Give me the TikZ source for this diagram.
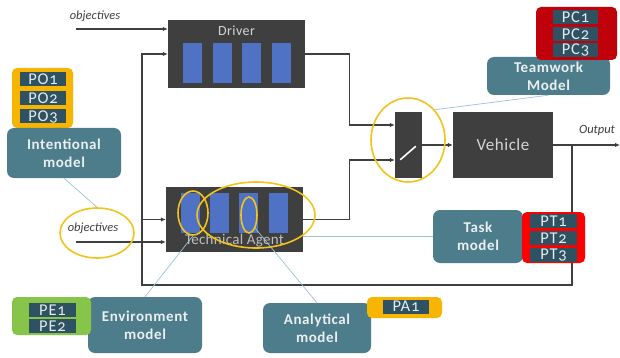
\documentclass[tikz,border=0pt]{standalone}
\usepackage{fontspec}
\setmainfont{Carlito}[Numbers=OldStyle]
\usetikzlibrary{shapes.geometric,arrows.meta}

\definecolor{boxgray}{HTML}{3F3F3F}
\definecolor{barblue}{HTML}{4F72C4}
\definecolor{ringyellow}{HTML}{F2C31B}
\definecolor{modelteal}{HTML}{4D7C8B}
\definecolor{rowteal}{HTML}{2E5262}
\definecolor{linkblue}{HTML}{9CC4D2}
\definecolor{paramorange}{HTML}{F7B500}
\definecolor{paramgreen}{HTML}{86C44A}
\definecolor{paramdark}{HTML}{C0000B}
\definecolor{paramred}{HTML}{FF0000}
\definecolor{palegray}{HTML}{D4D4D4}

\tikzset{
    block/.style={fill=boxgray, inner sep=0pt},
    bar/.style={fill=barblue, minimum width=19pt, minimum height=40pt, inner sep=0pt},
    ring/.style={ellipse, draw=ringyellow, line width=1.6pt, inner sep=0pt},
    model/.style={fill=modelteal, rounded corners=7pt, text=white!88!modelteal, align=center,
                  font=\bfseries\fontsize{15}{18}\selectfont\addfontfeature{LetterSpace=4}, inner sep=0pt},
    param/.style={rounded corners=5pt, inner sep=0pt},
    row/.style={fill=rowteal, text=white!88!rowteal, minimum width=46pt, minimum height=14pt,
                inner sep=0pt, font=\fontsize{16.5}{12}\selectfont\addfontfeature{LetterSpace=5}},
    link/.style={draw=linkblue, line width=0.7pt},
    wire/.style={draw=boxgray, line width=1.4pt},
    flow/.style={wire, -{Latex[length=5pt,width=4.5pt]}},
    note/.style={font=\itshape\fontsize{12.5}{13}\selectfont, text=boxgray}
}

\begin{document}
\begin{tikzpicture}[x=1pt, y=-1pt]
    \path[fill=white, use as bounding box] (0,0) rectangle (620,358);

    % main blocks
    \node[block, minimum width=137pt, minimum height=68pt,
          label={[anchor=north, yshift=-3pt, text=palegray, font=\fontsize{14}{14}\selectfont\addfontfeature{LetterSpace=3}]north:Driver}]
          (driver) at (236.5,54) {};
    \foreach \i/\x in {1/192.5, 2/222, 3/251.5, 4/281.5}
        \node[bar] (drvbar\i) at (\x,63) {};

    \node[block, minimum width=137pt, minimum height=65pt,
          label={[anchor=south, yshift=2pt, text=palegray!85!boxgray, font=\fontsize{15}{15}\selectfont\addfontfeature{LetterSpace=2}]south:Technical Agent}]
          (agent) at (234.5,219.5) {};
    \foreach \i/\x in {1/190, 2/219.5, 3/248.5, 4/278.5}
        \node[bar] (agtbar\i) at (\x,213) {};

    \node[block, minimum width=27pt, minimum height=66pt] (switch) at (408.5,145) {};
    \draw[white, line width=1.6pt, line cap=round] (400.5,159.5) -- (415.5,146.5);

    \node[block, minimum width=100pt, minimum height=66pt, text=palegray,
          font=\fontsize{17}{17}\selectfont\addfontfeature{LetterSpace=3}] (vehicle) at (503,145) {Vehicle};

    % signals
    \coordinate (objtop) at (76,29);
    \coordinate (objlow) at (76,242);
    \coordinate (tap) at (572,145);
    \coordinate (out) at (620,145);
    \coordinate (fbcorner) at (142,285);

    \node[note] (objtext1) at (95,16) {objectives};
    \node[note] (objtext2) at (93,228) {objectives};
    \node[note] (outtext) at (597,130) {Output};

    \draw[flow] (objtop) -- (objtop -| driver.west);
    \draw[flow] (objlow) -- (objlow -| agent.west);
    \draw[flow] (tap) |- (fbcorner) |- (driver.west);
    \draw[flow] (fbcorner |- agent.west) -- (agent.west);
    \draw[flow] (driver.east) -- ++(44,0) |- ([yshift=20pt]switch.west);
    \draw[flow] (agent.east) -- ++(46,0) |- ([yshift=-15pt]switch.west);
    \draw[flow] (switch.east) -- (vehicle.west);
    \draw[flow] (vehicle.east) -- (out);

    % highlights
    \node[ring, minimum width=74pt, minimum height=50pt] (objring) at (97,233) {};
    \node[ring, minimum width=30pt, minimum height=44pt] (envring) at (193,213) {};
    \node[ring, minimum width=118pt, minimum height=66pt] (taskring) at (256,215) {};
    \node[ring, minimum width=16pt, minimum height=36pt] (anaring) at (249,215) {};
    \node[ring, minimum width=74pt, minimum height=84pt] (teamring) at (408,140) {};

    % models and their parameters
    \node[param, fill=paramorange, minimum width=61pt, minimum height=60pt] (pobox) at (42.5,98) {};
    \foreach \i/\y in {1/79.5, 2/98.5, 3/116.5}
        \node[row] (po\i) at (43,\y) {PO\i};
    \node[model, minimum width=114pt, minimum height=50pt] (intent) at (64,153) {Intentional\\model};

    \node[model, minimum width=123pt, minimum height=38pt] (team) at (548.5,76) {Teamwork\\Model};
    \node[param, fill=paramdark, minimum width=81pt, minimum height=53pt] (pcbox) at (576.5,33.5) {};
    \foreach \i/\y in {1/17, 2/34, 3/50}
        \node[row, minimum width=45pt] (pc\i) at (575.5,\y) {PC\i};

    \node[model, minimum width=90pt, minimum height=53pt] (task) at (478,236.5) {Task\\model};
    \node[param, fill=paramred, minimum width=63pt, minimum height=51pt] (ptbox) at (553.5,237.5) {};
    \foreach \i/\y in {1/221, 2/238, 3/255}
        \node[row, minimum width=47pt] (pt\i) at (553.5,\y) {PT\i};

    \node[model, minimum width=114pt, minimum height=56pt] (env) at (145,325) {Environment\\model};
    \node[param, fill=paramgreen, minimum width=79pt, minimum height=38pt] (pebox) at (51.5,316) {};
    \foreach \i/\y in {1/310, 2/326}
        \node[row, minimum width=47pt] (pe\i) at (52.5,\y) {PE\i};

    \node[model, minimum width=108pt, minimum height=50pt] (ana) at (317,328) {Analytical\\model};
    \node[param, fill=paramorange, minimum width=75pt, minimum height=21pt] (pabox) at (404.5,307.5) {};
    \node[row] (pa1) at (406,306.5) {PA1};

    % links
    \draw[link] (intent.south) -- (objring.north);
    \draw[link] (env.north) -- (envring.south);
    \draw[link] (ana.north) -- (anaring.south east);
    \draw[link] (task.west) -- (task.west -| agent.east);
    \draw[link] (team.south) -- (teamring.north east);
\end{tikzpicture}
\end{document}
